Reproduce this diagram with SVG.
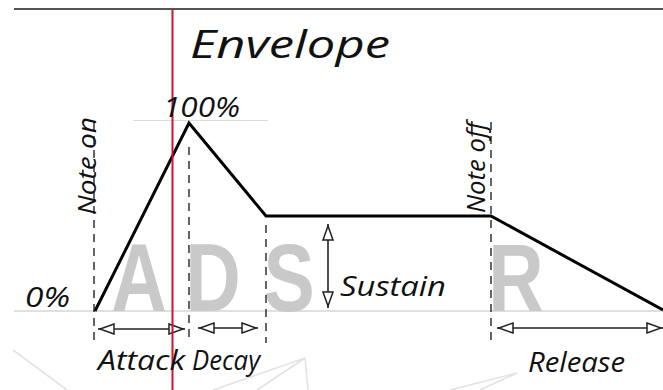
<svg xmlns="http://www.w3.org/2000/svg" width="663" height="390" viewBox="0 0 663 390">
  <style>
    .hand { font-family: "Open Sans", "Liberation Sans", sans-serif; font-style: italic; font-weight: 400; fill: #111; }
    .big { font-family: "Liberation Sans", Arial, sans-serif; font-weight: bold; fill: #c9c9c9; text-anchor: middle; }
    .dash { stroke: #333; stroke-width: 1.5; stroke-dasharray: 8 6; fill: none; }
    .arrow { stroke: #222; stroke-width: 1.6; fill: none; marker-start: url(#head); marker-end: url(#head); }
    .faint { stroke: #e2e2e2; stroke-width: 1.6; fill: none; }
    .guide { stroke: #d6d6d6; stroke-width: 1.5; fill: none; }
  </style>
  <defs>
    <marker id="head" viewBox="0 0 18 12" markerUnits="userSpaceOnUse" markerWidth="18" markerHeight="12" refX="17" refY="6" orient="auto-start-reverse">
      <path d="M1,1 L15,6 L1,11 Z" fill="#fff" stroke="#222" stroke-width="1.5"/>
    </marker>
  </defs>
  <rect width="663" height="390" fill="#fff"/>

  <g id="background">
    <path class="faint" d="M13,350 L67,390"/>
    <path class="faint" d="M305,358 L213,390 M305,358 L257,390 M305,358 L308,390"/>
    <path class="faint" d="M517,373 L450,390 M517,373 L480,390"/>
  </g>

  <g id="frame">
    <line x1="14" y1="9" x2="663" y2="9" stroke="#555" stroke-width="2"/>
    <line class="guide" x1="14" y1="311" x2="663" y2="311"/>
    <line x1="133" y1="120.5" x2="268" y2="120.5" stroke="#dcdcdc" stroke-width="1.2"/>
  </g>

  <g id="phase-letters">
    <text class="big" font-size="96" transform="translate(139,311) scale(0.8,1)">A</text>
    <text class="big" font-size="96" transform="translate(213,311) scale(0.8,1)">D</text>
    <text class="big" font-size="96" transform="translate(289,311) scale(0.8,1)">S</text>
    <text class="big" font-size="96" transform="translate(516,311) scale(0.8,1)">R</text>
  </g>

  <g id="connectors">
    <line class="dash" x1="94" y1="122" x2="94" y2="343"/>
    <line class="dash" x1="189" y1="147" x2="189" y2="343"/>
    <line class="dash" x1="266" y1="225" x2="266" y2="343"/>
    <line class="dash" x1="491" y1="122" x2="491" y2="343"/>
    <line class="arrow" x1="98" y1="329" x2="185" y2="329"/>
    <line class="arrow" x1="198" y1="328" x2="258" y2="328"/>
    <line class="arrow" x1="497" y1="328" x2="663" y2="328"/>
    <line class="arrow" x1="328" y1="224" x2="328" y2="308"/>
  </g>

  <g id="envelope-curve">
    <polyline points="95,311 189,123 266,216 491,216 663,310" fill="none" stroke="#000" stroke-width="3" stroke-linejoin="miter"/>
  </g>

  <g id="playhead">
    <line x1="172.5" y1="9" x2="172.5" y2="390" stroke="#d0142c" stroke-width="2"/>
  </g>

  <g id="title"><text class="hand" x="190" y="58" font-size="38" textLength="200" lengthAdjust="spacingAndGlyphs">Envelope</text></g>
  <g id="label-100"><text class="hand" x="163" y="117" font-size="28" textLength="77" lengthAdjust="spacingAndGlyphs">100%</text></g>
  <g id="label-0"><text class="hand" x="25" y="307" font-size="28" textLength="45" lengthAdjust="spacingAndGlyphs">0%</text></g>
  <g id="note-on"><text class="hand" transform="translate(96,215) rotate(-90)" font-size="26" textLength="98" lengthAdjust="spacingAndGlyphs">Note on</text></g>
  <g id="note-off"><text class="hand" transform="translate(485,213) rotate(-90)" font-size="26" textLength="91" lengthAdjust="spacingAndGlyphs">Note off</text></g>
  <g id="sustain"><text class="hand" x="340" y="296" font-size="28" textLength="106" lengthAdjust="spacingAndGlyphs">Sustain</text></g>
  <g id="attack"><text class="hand" x="98" y="370" font-size="28" textLength="87" lengthAdjust="spacingAndGlyphs">Attack</text></g>
  <g id="decay"><text class="hand" x="192" y="370" font-size="28" textLength="68" lengthAdjust="spacingAndGlyphs">Decay</text></g>
  <g id="release"><text class="hand" x="528" y="372" font-size="28" textLength="97" lengthAdjust="spacingAndGlyphs">Release</text></g>
</svg>
